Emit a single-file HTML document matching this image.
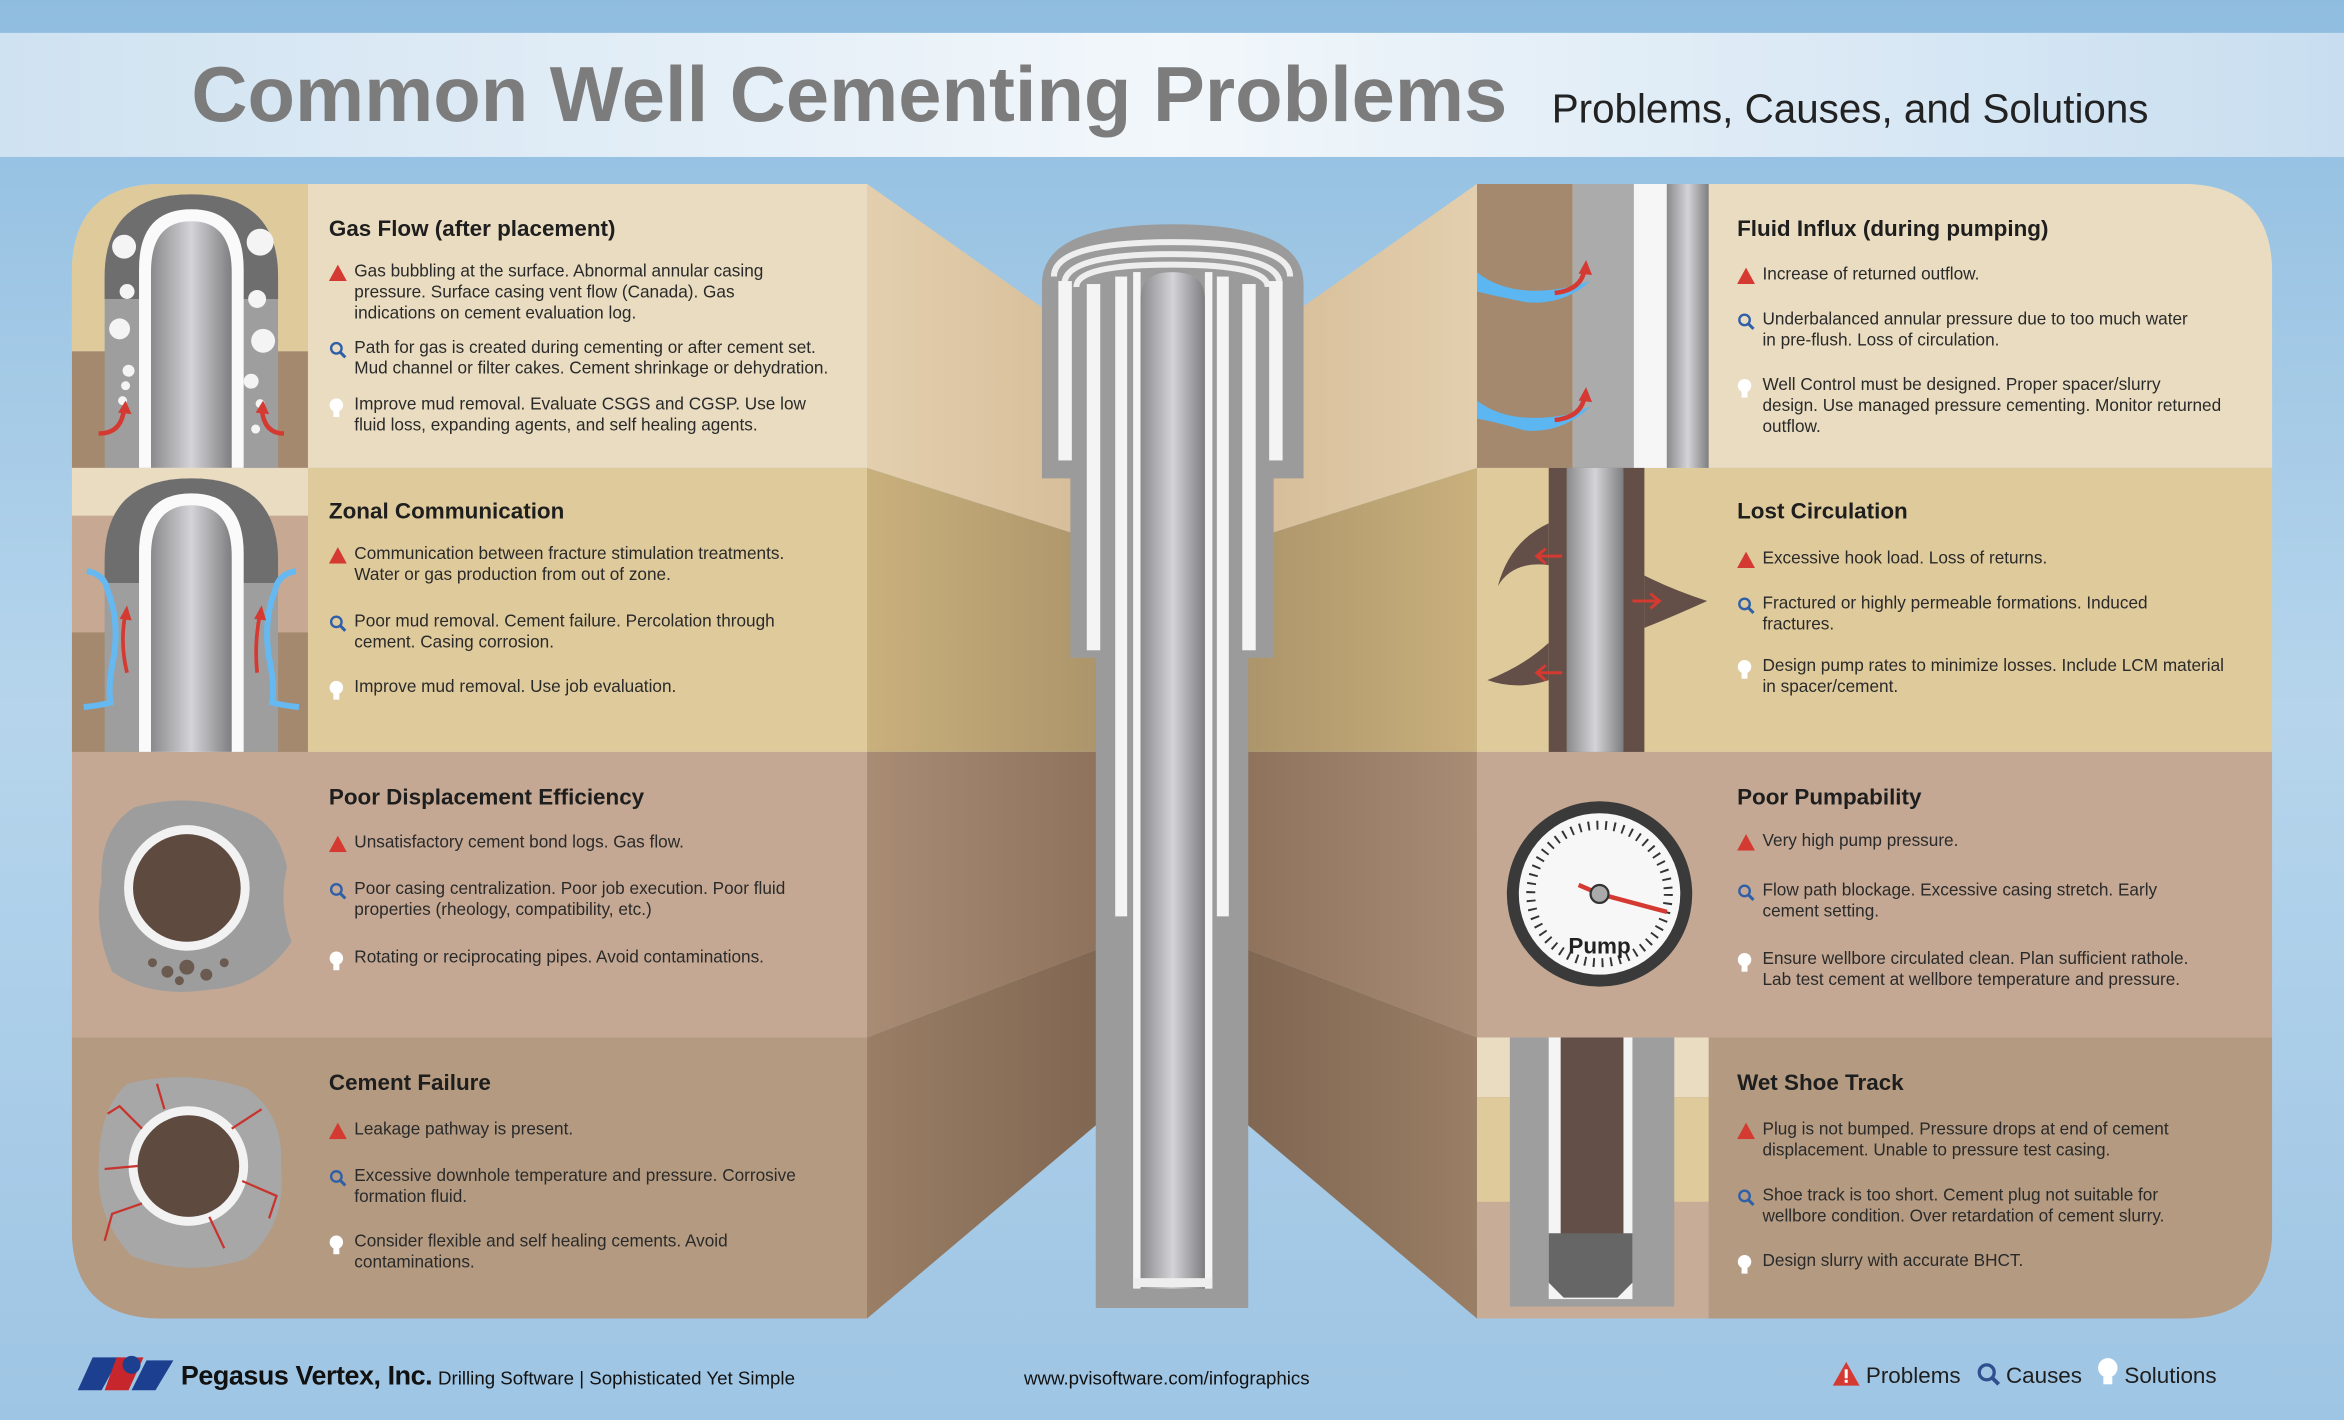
<!DOCTYPE html>
<html><head><meta charset="utf-8"><style>
html,body{margin:0;padding:0;width:2344px;height:1420px;overflow:hidden;background:#a9cbe6}
#w{position:absolute;left:0;top:0;width:1568px;height:950px;transform:scale(1.4949);transform-origin:0 0;font-family:"Liberation Sans",sans-serif;color:#222}
.t{position:absolute;font-size:11.5px;line-height:13.8px;color:#2a2a2a;padding-left:17px;white-space:nowrap}
.h{position:absolute;font-size:15px;font-weight:bold;color:#1e1e1e}
.t svg{position:absolute;left:0;top:1px}
</style></head><body><div id="w">
<svg width="1568" height="950" style="position:absolute;left:0;top:0">
<defs>
<linearGradient id="bg" x1="0" y1="0" x2="0" y2="1"><stop offset="0" stop-color="#8fbde0"/><stop offset=".5" stop-color="#b6d5ec"/><stop offset="1" stop-color="#9ec5e4"/></linearGradient>
<linearGradient id="band" x1="0" y1="0" x2="1" y2="0"><stop offset="0" stop-color="#cfe2f1"/><stop offset=".5" stop-color="#f2f7fb"/><stop offset="1" stop-color="#c8def0"/></linearGradient>
<linearGradient id="pipe" x1="0" y1="0" x2="1" y2="0"><stop offset="0" stop-color="#8a8a8c"/><stop offset=".5" stop-color="#d4d4d8"/><stop offset="1" stop-color="#7e7e80"/></linearGradient>
<linearGradient id="cl1" x1="0" y1="0" x2="1" y2="0"><stop offset="0" stop-color="#e3cfae"/><stop offset="1" stop-color="#d4b994"/></linearGradient>
<linearGradient id="cl2" x1="0" y1="0" x2="1" y2="0"><stop offset="0" stop-color="#c9b07c"/><stop offset="1" stop-color="#a89068"/></linearGradient>
<linearGradient id="cl3" x1="0" y1="0" x2="1" y2="0"><stop offset="0" stop-color="#a98c74"/><stop offset="1" stop-color="#8a6e58"/></linearGradient>
<linearGradient id="cl4" x1="0" y1="0" x2="1" y2="0"><stop offset="0" stop-color="#9a7e65"/><stop offset="1" stop-color="#7c634f"/></linearGradient>
<clipPath id="lp"><path d="M108,123 H580 V882 H108 Q48,882 48,822 V183 Q48,123 108,123Z"/></clipPath>
<clipPath id="rp"><path d="M988,123 H1460 Q1520,123 1520,183 V822 Q1520,882 1460,882 H988Z"/></clipPath>
</defs>
<rect width="1568" height="950" fill="url(#bg)"/>
<rect x="0" y="22" width="1568" height="83" fill="url(#band)"/>
<polygon points="580,123 760,250 760,370 580,313" fill="url(#cl1)"/>
<polygon points="580,313 760,370 760,503 580,503" fill="url(#cl2)"/>
<polygon points="580,503 760,503 760,625 580,694" fill="url(#cl3)"/>
<polygon points="580,694 760,625 760,730 580,882" fill="url(#cl4)"/>
<g transform="translate(1568,0) scale(-1,1)">
<polygon points="580,123 760,250 760,370 580,313" fill="url(#cl1)"/>
<polygon points="580,313 760,370 760,503 580,503" fill="url(#cl2)"/>
<polygon points="580,503 760,503 760,625 580,694" fill="url(#cl3)"/>
<polygon points="580,694 760,625 760,730 580,882" fill="url(#cl4)"/>
</g>
<g clip-path="url(#lp)">
<rect x="48" y="123" width="532" height="190" fill="#e9dcc0"/>
<rect x="48" y="313" width="532" height="190" fill="#dfca9b"/>
<rect x="48" y="503" width="532" height="191" fill="#c4a893"/>
<rect x="48" y="694" width="532" height="188" fill="#b39a80"/>
<rect x="48" y="123" width="158" height="112" fill="#dfca9c"/>
<rect x="48" y="235" width="158" height="78" fill="#a4896e"/>
<path d="M70,313 V185 Q70,130 128,130 Q186,130 186,185 V313Z" fill="#9e9e9e"/>
<path d="M70,200 V185 Q70,130 128,130 Q186,130 186,185 V200Z" fill="#6e6e6e"/>
<path d="M93,313 V180 Q93,140 128,140 Q163,140 163,180 V313Z" fill="#fafafa"/>
<path d="M101,313 V182 Q101,148 128,148 Q155,148 155,182 V313Z" fill="url(#pipe)"/>
<g fill="#f4f4f4"><circle cx="83" cy="165" r="8"/><circle cx="174" cy="162" r="9"/><circle cx="85" cy="195" r="5"/><circle cx="80" cy="220" r="7"/><circle cx="172" cy="200" r="6"/><circle cx="176" cy="228" r="8"/><circle cx="86" cy="248" r="4"/><circle cx="168" cy="255" r="5"/><circle cx="82" cy="268" r="3"/><circle cx="174" cy="270" r="3"/><circle cx="171" cy="287" r="3"/><circle cx="84" cy="258" r="3"/></g>
<path d="M66,290 Q82,290 83,272" stroke="#d43a32" stroke-width="3" fill="none"/><path d="M79,276 L84,268 L88,277Z" fill="#d43a32"/>
<path d="M190,290 Q176,290 175,272" stroke="#d43a32" stroke-width="3" fill="none"/><path d="M171,276 L176,268 L180,277Z" fill="#d43a32"/>
<rect x="48" y="313" width="158" height="32" fill="#e9dcc0"/>
<rect x="48" y="345" width="158" height="78" fill="#c7a993"/>
<rect x="48" y="423" width="158" height="80" fill="#a4896e"/>
<path d="M70,503 V375 Q70,320 128,320 Q186,320 186,375 V503Z" fill="#9e9e9e"/>
<path d="M70,390 V375 Q70,320 128,320 Q186,320 186,375 V390Z" fill="#6e6e6e"/>
<path d="M93,503 V370 Q93,330 128,330 Q163,330 163,370 V503Z" fill="#fafafa"/>
<path d="M101,503 V372 Q101,338 128,338 Q155,338 155,372 V503Z" fill="url(#pipe)"/>
<path d="M58,382 Q70,384 72,395 Q80,415 76,440 Q72,460 74,470 Q66,472 56,473" stroke="#66b8f0" stroke-width="4" fill="none"/>
<path d="M198,382 Q186,384 184,395 Q176,415 180,440 Q184,460 182,470 Q190,472 200,473" stroke="#66b8f0" stroke-width="4" fill="none"/>
<path d="M85,450 Q80,430 84,410" stroke="#d43a32" stroke-width="2.5" fill="none"/><path d="M80,414 L85,405 L88,415Z" fill="#d43a32"/>
<path d="M172,450 Q170,430 174,410" stroke="#d43a32" stroke-width="2.5" fill="none"/><path d="M170,414 L175,405 L178,415Z" fill="#d43a32"/>
<path d="M90,540 Q125,530 160,542 Q185,548 192,580 Q186,605 195,630 Q175,660 140,662 Q100,668 75,650 Q62,620 68,590 Q66,555 90,540Z" fill="#9d9d9d"/>
<circle cx="125" cy="594" r="42" fill="#f2f2f2"/><circle cx="125" cy="594" r="36" fill="#5f4a40"/>
<g fill="#6b5a50"><circle cx="112" cy="650" r="4"/><circle cx="125" cy="647" r="5"/><circle cx="138" cy="652" r="4"/><circle cx="150" cy="644" r="3"/><circle cx="102" cy="644" r="3"/><circle cx="120" cy="656" r="3"/></g>
<path d="M85,725 Q125,715 165,728 Q190,745 188,780 Q192,820 165,842 Q125,855 88,840 Q64,815 66,780 Q66,742 85,725Z" fill="#a7a7a7"/>
<circle cx="126" cy="780" r="40" fill="#f2f2f2"/><circle cx="126" cy="780" r="34" fill="#5f4a40"/>
<g stroke="#c8332d" stroke-width="1.5" fill="none"><path d="M95,755 L80,740 L72,745"/><path d="M110,742 L105,725"/><path d="M155,755 L175,742"/><path d="M162,790 L185,800 L180,815"/><path d="M95,805 L75,812 L70,830"/><path d="M140,814 L150,835"/><path d="M92,780 L70,782"/></g>
</g>
<g clip-path="url(#rp)">
<rect x="988" y="123" width="532" height="190" fill="#e9dcc0"/>
<rect x="988" y="313" width="532" height="190" fill="#dfca9b"/>
<rect x="988" y="503" width="532" height="191" fill="#c4a893"/>
<rect x="988" y="694" width="532" height="188" fill="#b39a80"/>
<rect x="988" y="123" width="64" height="190" fill="#a4896e"/>
<rect x="1052" y="123" width="41" height="190" fill="#ababab"/>
<rect x="1093" y="123" width="22" height="190" fill="#f6f6f6"/>
<rect x="1115" y="123" width="28" height="190" fill="url(#pipe)"/>
<path d="M988,182 Q1010,200 1050,192 L1064,188 Q1045,205 1020,202 Q1000,198 988,195Z" fill="#5cb6f2"/>
<path d="M988,268 Q1010,285 1050,277 L1064,272 Q1045,290 1020,288 Q1000,282 988,280Z" fill="#5cb6f2"/>
<path d="M1040,196 Q1058,194 1060,180" stroke="#d43a32" stroke-width="3" fill="none"/><path d="M1056,183 L1061,174 L1065,184Z" fill="#d43a32"/>
<path d="M1040,281 Q1058,279 1060,265" stroke="#d43a32" stroke-width="3" fill="none"/><path d="M1056,268 L1061,259 L1065,269Z" fill="#d43a32"/>
<rect x="1036" y="313" width="64" height="190" fill="#634f47"/>
<rect x="1048" y="313" width="38" height="190" fill="url(#pipe)"/>
<path d="M1036,350 Q1010,362 1002,392 Q1012,375 1036,378Z" fill="#634f47"/>
<path d="M1036,430 Q1020,445 995,455 Q1015,462 1036,455Z" fill="#634f47"/>
<path d="M1100,385 Q1120,395 1142,402 Q1120,412 1100,420Z" fill="#634f47"/>
<g stroke="#d43a32" stroke-width="2" fill="none"><path d="M1045,372 H1028 M1034,367 L1028,372 L1034,377"/><path d="M1045,450 H1028 M1034,445 L1028,450 L1034,455"/><path d="M1092,402 H1110 M1104,397 L1110,402 L1104,407"/></g>
<circle cx="1070" cy="598" r="62" fill="#3a3a3a"/><circle cx="1070" cy="598" r="54" fill="#f7f7f7"/>
<circle cx="1070" cy="598" r="46" fill="none" stroke="#333" stroke-width="6" stroke-dasharray="1.3 4.5"/>
<path d="M1070,598 L1115,610" stroke="#d43a32" stroke-width="3"/><path d="M1070,598 L1056,592" stroke="#d43a32" stroke-width="3"/>
<circle cx="1070" cy="598" r="6" fill="#aaa" stroke="#333" stroke-width="1.5"/>
<text x="1070" y="638" font-family="Liberation Sans" font-weight="bold" font-size="15" text-anchor="middle" fill="#222">Pump</text>
<rect x="988" y="694" width="155" height="40" fill="#e9dcc0"/><rect x="988" y="734" width="155" height="70" fill="#dfca9b"/><rect x="988" y="804" width="155" height="78" fill="#c7ad98"/>
<rect x="1010" y="694" width="110" height="180" fill="#9e9e9e"/>
<rect x="1036" y="694" width="56" height="175" fill="#f4f4f4"/>
<rect x="1044" y="694" width="42" height="170" fill="#634f47"/>
<path d="M1036,825 H1092 V858 L1082,868 H1046 L1036,858Z" fill="#666"/>
</g>
<path d="M697,190 Q697,150 784,150 Q872,150 872,190 V320 H852 V440 H835 V875 H733 V440 H716 V320 H697Z" fill="#9b9b9b"/>
<path d="M705,185 Q705,162 784,162 Q863,162 863,185" fill="none" stroke="#eee" stroke-width="4"/>
<path d="M712,190 Q712,170 784,170 Q856,170 856,190" fill="none" stroke="#eee" stroke-width="4"/>
<path d="M720,192 Q720,177 784,177 Q848,177 848,192" fill="none" stroke="#eee" stroke-width="4"/>
<rect x="708" y="188" width="9" height="120" fill="#f4f4f4"/><rect x="849" y="188" width="9" height="120" fill="#f4f4f4"/>
<rect x="727" y="190" width="9" height="245" fill="#f4f4f4"/><rect x="831" y="190" width="9" height="245" fill="#f4f4f4"/>
<rect x="746" y="185" width="8" height="428" fill="#f4f4f4"/><rect x="814" y="185" width="8" height="428" fill="#f4f4f4"/>
<rect x="758" y="182" width="5" height="680" fill="#f4f4f4"/><rect x="806" y="182" width="5" height="680" fill="#f4f4f4"/>
<path d="M763,862 V200 Q763,182 784,182 Q806,182 806,200 V862Z" fill="url(#pipe)"/>
<rect x="758" y="855" width="53" height="6" fill="#eee"/>
<path d="M62,908 H80 L68,930 H52Z" fill="#1d3f8f"/><path d="M78,908 H96 L86,930 H70Z" fill="#c8262d"/><circle cx="88" cy="913" r="6" fill="#1d3f8f"/><path d="M98,910 H116 L104,930 H88Z" fill="#1d3f8f"/>
</svg>
<div style="position:absolute;left:128px;top:34px;font-size:52px;font-weight:bold;color:#7c7c7c;letter-spacing:0;white-space:nowrap">Common Well Cementing Problems</div>
<div style="position:absolute;left:1038px;top:58px;font-size:27px;color:#222;white-space:nowrap">Problems, Causes, and Solutions</div>

<div class="h" style="left:220px;top:145px">Gas Flow (after placement)</div>
<div class="t" style="left:220px;top:176px"><svg width="12" height="11"><path d="M6,0 L12,11 H0Z" fill="#d43a32"/></svg>Gas bubbling at the surface. Abnormal annular casing<br>pressure. Surface casing vent flow (Canada). Gas<br>indications on cement evaluation log.</div>
<div class="t" style="left:220px;top:227px"><svg width="12" height="12"><circle cx="5" cy="5" r="3.5" stroke="#2f5fa8" stroke-width="1.6" fill="none"/><path d="M7.5,7.5 L11,11" stroke="#2f5fa8" stroke-width="2"/></svg>Path for gas is created during cementing or after cement set.<br>Mud channel or filter cakes. Cement shrinkage or dehydration.</div>
<div class="t" style="left:220px;top:265px"><svg width="10" height="14"><circle cx="5" cy="5" r="4.5" fill="#fff"/><rect x="3" y="9" width="4" height="4" fill="#fff"/></svg>Improve mud removal. Evaluate CSGS and CGSP. Use low<br>fluid loss, expanding agents, and self healing agents.</div>

<div class="h" style="left:220px;top:334px">Zonal Communication</div>
<div class="t" style="left:220px;top:365px"><svg width="12" height="11"><path d="M6,0 L12,11 H0Z" fill="#d43a32"/></svg>Communication between fracture stimulation treatments.<br>Water or gas production from out of zone.</div>
<div class="t" style="left:220px;top:410px"><svg width="12" height="12"><circle cx="5" cy="5" r="3.5" stroke="#2f5fa8" stroke-width="1.6" fill="none"/><path d="M7.5,7.5 L11,11" stroke="#2f5fa8" stroke-width="2"/></svg>Poor mud removal. Cement failure. Percolation through<br>cement. Casing corrosion.</div>
<div class="t" style="left:220px;top:454px"><svg width="10" height="14"><circle cx="5" cy="5" r="4.5" fill="#fff"/><rect x="3" y="9" width="4" height="4" fill="#fff"/></svg>Improve mud removal. Use job evaluation.</div>

<div class="h" style="left:220px;top:525px">Poor Displacement Efficiency</div>
<div class="t" style="left:220px;top:558px"><svg width="12" height="11"><path d="M6,0 L12,11 H0Z" fill="#d43a32"/></svg>Unsatisfactory cement bond logs. Gas flow.</div>
<div class="t" style="left:220px;top:589px"><svg width="12" height="12"><circle cx="5" cy="5" r="3.5" stroke="#2f5fa8" stroke-width="1.6" fill="none"/><path d="M7.5,7.5 L11,11" stroke="#2f5fa8" stroke-width="2"/></svg>Poor casing centralization. Poor job execution. Poor fluid<br>properties (rheology, compatibility, etc.)</div>
<div class="t" style="left:220px;top:635px"><svg width="10" height="14"><circle cx="5" cy="5" r="4.5" fill="#fff"/><rect x="3" y="9" width="4" height="4" fill="#fff"/></svg>Rotating or reciprocating pipes. Avoid contaminations.</div>

<div class="h" style="left:220px;top:716px">Cement Failure</div>
<div class="t" style="left:220px;top:750px"><svg width="12" height="11"><path d="M6,0 L12,11 H0Z" fill="#d43a32"/></svg>Leakage pathway is present.</div>
<div class="t" style="left:220px;top:781px"><svg width="12" height="12"><circle cx="5" cy="5" r="3.5" stroke="#2f5fa8" stroke-width="1.6" fill="none"/><path d="M7.5,7.5 L11,11" stroke="#2f5fa8" stroke-width="2"/></svg>Excessive downhole temperature and pressure. Corrosive<br>formation fluid.</div>
<div class="t" style="left:220px;top:825px"><svg width="10" height="14"><circle cx="5" cy="5" r="4.5" fill="#fff"/><rect x="3" y="9" width="4" height="4" fill="#fff"/></svg>Consider flexible and self healing cements. Avoid<br>contaminations.</div>

<div class="h" style="left:1162px;top:145px">Fluid Influx (during pumping)</div>
<div class="t" style="left:1162px;top:178px"><svg width="12" height="11"><path d="M6,0 L12,11 H0Z" fill="#d43a32"/></svg>Increase of returned outflow.</div>
<div class="t" style="left:1162px;top:208px"><svg width="12" height="12"><circle cx="5" cy="5" r="3.5" stroke="#2f5fa8" stroke-width="1.6" fill="none"/><path d="M7.5,7.5 L11,11" stroke="#2f5fa8" stroke-width="2"/></svg>Underbalanced annular pressure due to too much water<br>in pre-flush. Loss of circulation.</div>
<div class="t" style="left:1162px;top:252px"><svg width="10" height="14"><circle cx="5" cy="5" r="4.5" fill="#fff"/><rect x="3" y="9" width="4" height="4" fill="#fff"/></svg>Well Control must be designed. Proper spacer/slurry<br>design. Use managed pressure cementing. Monitor returned<br>outflow.</div>

<div class="h" style="left:1162px;top:334px">Lost Circulation</div>
<div class="t" style="left:1162px;top:368px"><svg width="12" height="11"><path d="M6,0 L12,11 H0Z" fill="#d43a32"/></svg>Excessive hook load. Loss of returns.</div>
<div class="t" style="left:1162px;top:398px"><svg width="12" height="12"><circle cx="5" cy="5" r="3.5" stroke="#2f5fa8" stroke-width="1.6" fill="none"/><path d="M7.5,7.5 L11,11" stroke="#2f5fa8" stroke-width="2"/></svg>Fractured or highly permeable formations. Induced<br>fractures.</div>
<div class="t" style="left:1162px;top:440px"><svg width="10" height="14"><circle cx="5" cy="5" r="4.5" fill="#fff"/><rect x="3" y="9" width="4" height="4" fill="#fff"/></svg>Design pump rates to minimize losses. Include LCM material<br>in spacer/cement.</div>

<div class="h" style="left:1162px;top:525px">Poor Pumpability</div>
<div class="t" style="left:1162px;top:557px"><svg width="12" height="11"><path d="M6,0 L12,11 H0Z" fill="#d43a32"/></svg>Very high pump pressure.</div>
<div class="t" style="left:1162px;top:590px"><svg width="12" height="12"><circle cx="5" cy="5" r="3.5" stroke="#2f5fa8" stroke-width="1.6" fill="none"/><path d="M7.5,7.5 L11,11" stroke="#2f5fa8" stroke-width="2"/></svg>Flow path blockage. Excessive casing stretch. Early<br>cement setting.</div>
<div class="t" style="left:1162px;top:636px"><svg width="10" height="14"><circle cx="5" cy="5" r="4.5" fill="#fff"/><rect x="3" y="9" width="4" height="4" fill="#fff"/></svg>Ensure wellbore circulated clean. Plan sufficient rathole.<br>Lab test cement at wellbore temperature and pressure.</div>

<div class="h" style="left:1162px;top:716px">Wet Shoe Track</div>
<div class="t" style="left:1162px;top:750px"><svg width="12" height="11"><path d="M6,0 L12,11 H0Z" fill="#d43a32"/></svg>Plug is not bumped. Pressure drops at end of cement<br>displacement. Unable to pressure test casing.</div>
<div class="t" style="left:1162px;top:794px"><svg width="12" height="12"><circle cx="5" cy="5" r="3.5" stroke="#2f5fa8" stroke-width="1.6" fill="none"/><path d="M7.5,7.5 L11,11" stroke="#2f5fa8" stroke-width="2"/></svg>Shoe track is too short. Cement plug not suitable for<br>wellbore condition. Over retardation of cement slurry.</div>
<div class="t" style="left:1162px;top:838px"><svg width="10" height="14"><circle cx="5" cy="5" r="4.5" fill="#fff"/><rect x="3" y="9" width="4" height="4" fill="#fff"/></svg>Design slurry with accurate BHCT.</div>

<div style="position:absolute;left:121px;top:910px;font-size:18px;font-weight:bold;color:#111;white-space:nowrap;letter-spacing:-0.3px">Pegasus Vertex, Inc.</div>
<div style="position:absolute;left:293px;top:915px;font-size:12.5px;color:#111;white-space:nowrap">Drilling Software | Sophisticated Yet Simple</div>
<div style="position:absolute;left:685px;top:915px;font-size:12.5px;color:#111;white-space:nowrap">www.pvisoftware.com/infographics</div>
<div style="position:absolute;left:1226px;top:908px;font-size:15px;color:#1e1e1e;white-space:nowrap">
<svg width="18" height="16" style="vertical-align:-2px"><path d="M9,0 L18,16 H0Z" fill="#d43a32"/><rect x="8" y="5" width="2" height="6" fill="#fff"/><rect x="8" y="12" width="2" height="2" fill="#fff"/></svg> Problems
<svg width="16" height="16" style="vertical-align:-2px;margin-left:6px"><circle cx="7" cy="7" r="5" stroke="#2f4f8f" stroke-width="2.2" fill="none"/><path d="M10.5,10.5 L15,15" stroke="#2f4f8f" stroke-width="2.6"/></svg> Causes
<svg width="14" height="20" style="vertical-align:-3px;margin-left:6px"><circle cx="7" cy="7" r="6.5" fill="#fff"/><rect x="4" y="13" width="6" height="5" fill="#fff"/></svg> Solutions
</div>
</div></body></html>
